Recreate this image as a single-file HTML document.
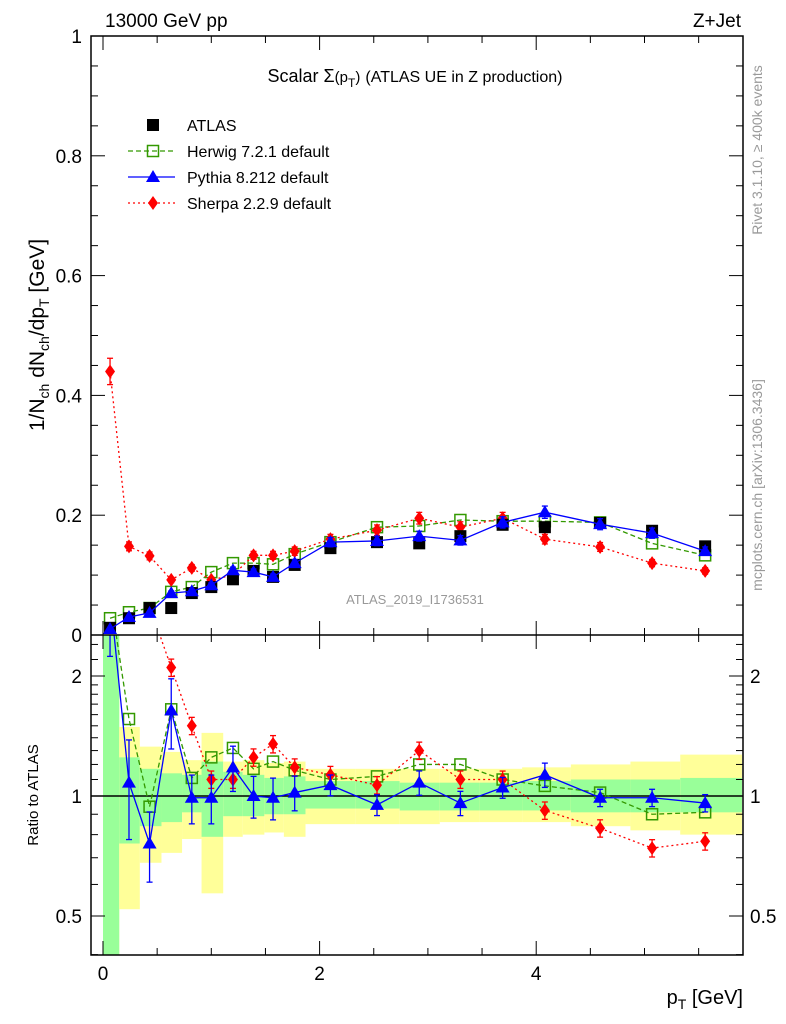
<!DOCTYPE html>
<html><head><meta charset="utf-8"><style>
body{margin:0;background:#fff;}
svg{display:block;font-family:"Liberation Sans",sans-serif;}
</style></head><body>
<svg id="c" width="786" height="1024" xmlns="http://www.w3.org/2000/svg">
<g id="bands"></g>
<g id="marks"></g>
<g id="axes"></g>
<text x="105" y="27" font-size="19">13000 GeV pp</text>
<text x="741" y="27" font-size="19" text-anchor="end">Z+Jet</text>
<text x="415" y="82" font-size="18" text-anchor="middle">Scalar Σ<tspan font-size="15">(p</tspan><tspan font-size="12" dy="5">T</tspan><tspan font-size="15" dy="-5">)</tspan> <tspan font-size="16">(ATLAS UE in Z production)</tspan></text>
<text x="415" y="604" font-size="13" fill="#999" text-anchor="middle">ATLAS_2019_I1736531</text>
<text transform="translate(44,335) rotate(-90)" font-size="21" text-anchor="middle">1/N<tspan font-size="14" dy="5">ch</tspan><tspan dy="-5"> dN</tspan><tspan font-size="14" dy="5">ch</tspan><tspan dy="-5">/dp</tspan><tspan font-size="14" dy="5">T</tspan><tspan dy="-5"> [GeV]</tspan></text>
<text transform="translate(38,795) rotate(-90)" font-size="15" text-anchor="middle">Ratio to ATLAS</text>
<text x="743" y="1004" font-size="20" text-anchor="end">p<tspan font-size="14" dy="5">T</tspan><tspan dy="-5"> [GeV]</tspan></text>
<text transform="translate(762,150) rotate(-90)" font-size="14" fill="#999" text-anchor="middle">Rivet 3.1.10, ≥ 400k events</text>
<text transform="translate(762,485) rotate(-90)" font-size="14" fill="#999" text-anchor="middle">mcplots.cern.ch [arXiv:1306.3436]</text>
<g id="legend"></g>
</svg>
<script>
const xs=[0.065,0.24,0.43,0.63,0.82,1.0,1.2,1.39,1.57,1.77,2.1,2.53,2.92,3.3,3.69,4.08,4.59,5.07,5.56];
const edges=[0,0.15,0.34,0.54,0.73,0.91,1.11,1.29,1.49,1.67,1.87,2.33,2.74,3.11,3.48,3.87,4.32,4.87,5.33,5.9];
const atlas=[0.012,0.028,0.045,0.045,0.07,0.08,0.093,0.107,0.097,0.117,0.145,0.155,0.153,0.165,0.184,0.18,0.187,0.174,0.148];
const herwig=[0.028,0.038,0.045,0.072,0.08,0.105,0.12,0.12,0.118,0.135,0.155,0.18,0.182,0.192,0.19,0.19,0.188,0.153,0.133];
const pythia=[0.01,0.03,0.037,0.07,0.073,0.083,0.108,0.105,0.097,0.12,0.155,0.157,0.165,0.158,0.188,0.205,0.185,0.17,0.14];
const sherpa=[0.44,0.148,0.132,0.092,0.112,0.092,0.1,0.133,0.133,0.14,0.16,0.175,0.195,0.18,0.195,0.16,0.147,0.12,0.107];
const rHerwig=[3.2,1.56,0.94,1.65,1.11,1.25,1.32,1.17,1.22,1.16,1.1,1.12,1.2,1.2,1.1,1.06,1.02,0.9,0.91];
const rPythia=[3.2,1.08,0.76,1.64,0.99,0.99,1.18,1.0,0.99,1.02,1.065,0.95,1.08,0.96,1.05,1.13,0.99,0.99,0.96];
const rPythiaErr=[0.3,0.28,0.2,0.2,0.14,0.14,0.13,0.12,0.12,0.1,0.06,0.06,0.07,0.07,0.06,0.07,0.05,0.05,0.05];
const rSherpa=[20,5,3,2.1,1.5,1.1,1.1,1.25,1.35,1.18,1.13,1.065,1.3,1.1,1.1,0.92,0.83,0.74,0.77];
const yelHi=[2.6,1.49,1.33,1.29,1.23,1.44,1.22,1.23,1.21,1.22,1.17,1.17,1.17,1.17,1.17,1.18,1.2,1.22,1.27];
const yelLo=[0.3,0.52,0.68,0.72,0.78,0.57,0.79,0.8,0.81,0.79,0.85,0.85,0.85,0.86,0.86,0.86,0.84,0.82,0.8];
const grnHi=[2.6,1.25,1.17,1.14,1.13,1.22,1.15,1.13,1.11,1.12,1.09,1.09,1.08,1.08,1.08,1.09,1.1,1.1,1.11];
const grnLo=[0.3,0.76,0.84,0.86,0.91,0.79,0.89,0.89,0.9,0.9,0.93,0.93,0.92,0.92,0.92,0.92,0.91,0.91,0.91];
const yTicks=[0,0.2,0.4,0.6,0.8,1];
const yTickLabels=["0","0.2","0.4","0.6","0.8","1"];
const xTicks=[0,2,4];
const rTicks=[0.5,1,2];

const L=91,R=743,T=36,M=635,B=955;
const X=v=>103+v*108.3;
const Y=v=>635-v*599;
const RY=v=>796-Math.log2(v)*120;
const RYc=v=>Math.max(M,Math.min(B,RY(v)));
const NS="http://www.w3.org/2000/svg";
function mk(tag,attrs,parent){const e=document.createElementNS(NS,tag);for(const k in attrs)e.setAttribute(k,attrs[k]);parent.appendChild(e);return e;}
const bands=document.getElementById('bands'),marks=document.getElementById('marks'),axes=document.getElementById('axes'),leg=document.getElementById('legend');

for(let i=0;i<xs.length;i++){
 const x0=X(edges[i]),x1=X(edges[i+1]);
 const y=mk('rect',{x:x0,y:RYc(yelHi[i]),width:x1-x0,height:RYc(yelLo[i])-RYc(yelHi[i]),fill:'#ffff99'},bands);
 
 
 const g=mk('rect',{x:x0,y:RYc(grnHi[i]),width:x1-x0,height:RYc(grnLo[i])-RYc(grnHi[i]),fill:'#99ff99'},bands);
 
 
}
mk('line',{x1:L,x2:R,y1:RY(1),y2:RY(1),stroke:'#000','stroke-width':1.5},bands);

function clipPath(id,y0,y1){const d=mk('clipPath',{id:id},marks);mk('rect',{x:L,y:y0,width:R-L,height:y1-y0},d);}
clipPath('ct',T,M);clipPath('cb',M,B);
const gt=mk('g',{'clip-path':'url(#ct)'},marks),gb=mk('g',{'clip-path':'url(#cb)'},marks);

function marker(type,x,y,col,p){
 let e;
 if(type==='sq') e=mk('rect',{x:x-6,y:y-6,width:12,height:12,fill:'#000'},p);
 else if(type==='osq') e=mk('rect',{x:x-5.5,y:y-5.5,width:11,height:11,fill:'none',stroke:col,'stroke-width':1.5},p);
 else if(type==='tri') e=mk('polygon',{points:`${x},${y-7} ${x-7},${y+5} ${x+7},${y+5}`,fill:col},p);
 else e=mk('polygon',{points:`${x},${y-7} ${x-5},${y} ${x},${y+7} ${x+5},${y}`,fill:col},p);
 
 
}
function series(vals,fx,fy,col,dash,type,p,name,err){
 const pts=vals.map((v,i)=>fx(xs[i])+','+fy(v)).join(' ');
 if(col){const l=mk('polyline',{points:pts,fill:'none',stroke:col,'stroke-width':1.3,'stroke-dasharray':dash},p);
 
 }
 vals.forEach((v,i)=>{
  const xx=fx(xs[i]);
  if(err){const e=err[i];const y1=fy(v*(1+e)),y2=fy(Math.max(v*(1-e),0.01));
   mk('line',{x1:xx,x2:xx,y1:y1,y2:y2,stroke:col||'#000','stroke-width':1.3},p);
   mk('line',{x1:xx-3,x2:xx+3,y1:y1,y2:y1,stroke:col||'#000','stroke-width':1.3},p);
   mk('line',{x1:xx-3,x2:xx+3,y1:y2,y2:y2,stroke:col||'#000','stroke-width':1.3},p);}
  marker(type,xx,fy(v),col,p);
 });
}
const topErr=xs.map(()=>0.05);
series(herwig,X,Y,'#339900','5,3','osq',gt,'herwig');
series(sherpa,X,Y,'#ff0000','2,3','dia',gt,'sherpa',topErr);
series(atlas,X,Y,null,'','sq',gt,'atlas');
series(pythia,X,Y,'#0000ff','','tri',gt,'pythia',topErr);
series(rHerwig,X,RY,'#339900','5,3','osq',gb,'herwig-ratio');
series(rSherpa,X,RY,'#ff0000','2,3','dia',gb,'sherpa-ratio',topErr);
series(rPythia,X,RY,'#0000ff','','tri',gb,'pythia-ratio',rPythiaErr);

mk('rect',{x:L,y:T,width:R-L,height:B-T,fill:'none',stroke:'#000','stroke-width':1.5},axes);
mk('line',{x1:L,x2:R,y1:M,y2:M,stroke:'#000','stroke-width':1.5},axes);
yTicks.forEach((v,i)=>{
 mk('line',{x1:L,x2:L+14,y1:Y(v),y2:Y(v),stroke:'#000'},axes);mk('line',{x1:R,x2:R-14,y1:Y(v),y2:Y(v),stroke:'#000'},axes);
 const t=mk('text',{x:L-9,y:Y(v)+7,'font-size':19,'text-anchor':'end'},axes);t.textContent=yTickLabels[i];
 
 
 if(i<5)for(let k=1;k<4;k++){const yy=Y(v+k*0.05);mk('line',{x1:L,x2:L+7,y1:yy,y2:yy,stroke:'#000'},axes);mk('line',{x1:R,x2:R-7,y1:yy,y2:yy,stroke:'#000'},axes);}
});
for(let v=-0.0;v<=5.8;v+=0.5){const major=Math.abs(v%2)<0.01||Math.abs(v%2-2)<0.01;const len=major?14:7;const xx=X(v);
 mk('line',{x1:xx,x2:xx,y1:M,y2:M-len,stroke:'#000'},axes);mk('line',{x1:xx,x2:xx,y1:T,y2:T+len,stroke:'#000'},axes);
 mk('line',{x1:xx,x2:xx,y1:B,y2:B-len,stroke:'#000'},axes);mk('line',{x1:xx,x2:xx,y1:M,y2:M+len,stroke:'#000'},axes);}
xTicks.forEach(v=>{const t=mk('text',{x:X(v),y:980,'font-size':19,'text-anchor':'middle'},axes);t.textContent=String(v);
 
 });
rTicks.forEach(v=>{mk('line',{x1:L,x2:L+14,y1:RY(v),y2:RY(v),stroke:'#000'},axes);mk('line',{x1:R,x2:R-14,y1:RY(v),y2:RY(v),stroke:'#000'},axes);
 const a=mk('text',{x:L-9,y:RY(v)+7,'font-size':19,'text-anchor':'end'},axes);a.textContent=String(v);
 
 
 const b=mk('text',{x:R+7,y:RY(v)+7,'font-size':19},axes);b.textContent=String(v);
 
 });
[0.4,0.6,0.7,0.8,0.9,1.1,1.2,1.3,1.4,1.5,1.6,1.7,1.8,1.9,2.2,2.4].forEach(v=>{const yy=RY(v);if(yy>M&&yy<B){mk('line',{x1:L,x2:L+7,y1:yy,y2:yy,stroke:'#000'},axes);mk('line',{x1:R,x2:R-7,y1:yy,y2:yy,stroke:'#000'},axes);}});

const items=[['sq',null,'','ATLAS'],['osq','#339900','5,3','Herwig 7.2.1 default'],['tri','#0000ff','','Pythia 8.212 default'],['dia','#ff0000','2,3','Sherpa 2.2.9 default']];
items.forEach((it,i)=>{const y=125+i*26;
 if(it[1])mk('line',{x1:128,x2:175,y1:y,y2:y,stroke:it[1],'stroke-width':1.3,'stroke-dasharray':it[2]},leg);
 marker(it[0],153,y,it[1],leg);
 const t=mk('text',{x:187,y:y+6,'font-size':16},leg);t.textContent=it[3];
 
 
});
</script>
</body></html>
